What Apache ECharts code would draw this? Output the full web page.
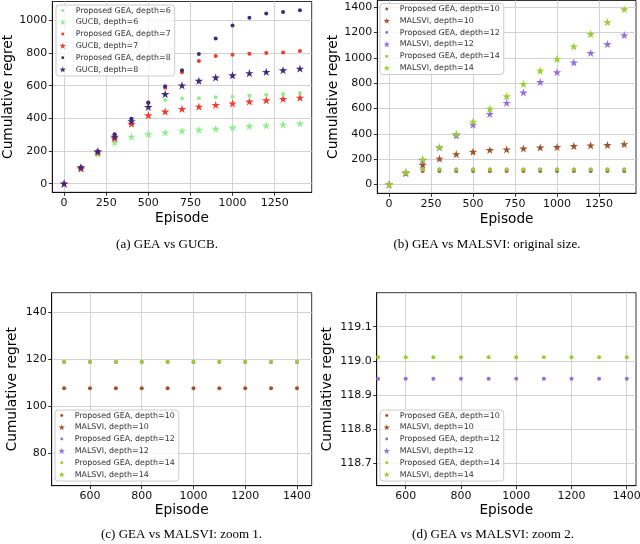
<!DOCTYPE html>
<html>
<head>
<meta charset="utf-8">
<script src="https://cdn.jsdelivr.net/npm/echarts@6.0.0/dist/echarts.min.js"></script>
<style>
html,body{margin:0;padding:0;background:#fff;}
#chart{width:640px;height:544px;}
</style>
</head>
<body>
<div id="chart"></div>
<script>
// ---------- data ----------
const episodes = [0, 100, 200, 300, 400, 500, 600, 700, 800, 900, 1000, 1100, 1200, 1300, 1400];

// (a) GEA vs GUCB
const gea6  = [0, 99, 195, 300, 395, 490, 513, 521, 523, 529, 533, 539, 545, 549, 555];
const gucb6 = [0, 96, 182, 253, 288, 304, 314, 324, 330, 336, 344, 353, 357, 363, 369];
const gea7  = [0, 99, 196, 300, 396, 495, 587, 682, 752, 782, 790, 796, 800, 804, 812];
const gucb7 = [0, 92, 192, 278, 367, 419, 442, 458, 472, 482, 492, 503, 511, 519, 527];
const gea8  = [0, 100, 198, 302, 397, 497, 596, 695, 794, 889, 969, 1017, 1042, 1052, 1062];
const gucb8 = [0, 100, 199, 288, 383, 470, 549, 602, 630, 650, 664, 677, 685, 695, 705];

// (b)-(d) GEA vs MALSVI
const gea10    = [0, 88, 107.8, 107.8, 107.8, 107.8, 107.8, 107.8, 107.8, 107.8, 107.8, 107.8, 107.8, 107.8, 107.8];
const malsvi10 = [0, 90, 156, 205, 240, 259, 273, 278, 285, 292, 296, 304, 309, 312, 319];
const gea12    = [0, 95, 118.947, 118.947, 118.947, 118.947, 118.947, 118.947, 118.947, 118.947, 118.947, 118.947, 118.947, 118.947, 118.947];
const malsvi12 = [0, 96, 195, 293, 387, 472, 558, 645, 727, 809, 887, 963, 1039, 1109, 1180];
const gea14    = [0, 97, 119.01, 119.01, 119.01, 119.01, 119.01, 119.01, 119.01, 119.01, 119.01, 119.01, 119.01, 119.01, 119.01];
const malsvi14 = [0, 97, 199, 297, 399, 497, 598, 697, 795, 898, 992, 1091, 1188, 1282, 1384];

// tick labels
const ticksXab = [0, 250, 500, 750, 1000, 1250];
const ticksYa  = [0, 200, 400, 600, 800, 1000];
const ticksYb  = [0, 200, 400, 600, 800, 1000, 1200, 1400];
const ticksXcd = [600, 800, 1000, 1200, 1400];
const ticksYc  = [80, 100, 120, 140];
const ticksYd  = [118.7, 118.8, 118.9, 119.0, 119.1];

const namesA = ['Proposed GEA, depth=6', 'GUCB, depth=6', 'Proposed GEA, depth=7', 'GUCB, depth=7', 'Proposed GEA, depth=8', 'GUCB, depth=8'];
const namesB = ['Proposed GEA, depth=10', 'MALSVI, depth=10', 'Proposed GEA, depth=12', 'MALSVI, depth=12', 'Proposed GEA, depth=14', 'MALSVI, depth=14'];
const captions = ['(a) GEA vs GUCB.', '(b) GEA vs MALSVI: original size.', '(c) GEA vs MALSVI: zoom 1.', '(d) GEA vs MALSVI: zoom 2.'];

// ---------- styles ----------
const C_LG = '#90ee90', C_RED = '#f23b2a', C_PUR = '#3f2b7d';
const C_BR = '#a0522d', C_LAV = '#9370db', C_YG = '#9acd32';
const STAR = 'path://M10,0L12.245,6.91L19.511,6.91L13.633,11.18L15.878,18.09L10,13.82L4.122,18.09L6.367,11.18L0.489,6.91L7.755,6.91Z';
const STAR_ICON = 'path://M-1,-1M21,19.5M10,0L12.245,6.91L19.511,6.91L13.633,11.18L15.878,18.09L10,13.82L4.122,18.09L6.367,11.18L0.489,6.91L7.755,6.91Z';
const DOT_ICON = 'path://M0,0M8,8M4,2.3A1.7,1.7,0,1,1,4,5.7A1.7,1.7,0,1,1,4,2.3Z';
const FONT = 'DejaVu Sans';

const seriesA = [[gea6, C_LG, 'dot'], [gucb6, C_LG, 'star'], [gea7, C_RED, 'dot'], [gucb7, C_RED, 'star'], [gea8, C_PUR, 'dot'], [gucb8, C_PUR, 'star']];
const seriesB = [[gea10, C_BR, 'dot'], [malsvi10, C_BR, 'star'], [gea12, C_LAV, 'dot'], [malsvi12, C_LAV, 'star'], [gea14, C_YG, 'dot'], [malsvi14, C_YG, 'star']];

const grids = [
  {left: 52.3, top: 1.5, width: 259.4, height: 190.8},
  {left: 377.3, top: 0.5, width: 258.7, height: 192.8},
  {left: 51.7, top: 292.7, width: 260, height: 193},
  {left: 376.7, top: 292.7, width: 259.3, height: 193}
].map(g => Object.assign(g, {show: true, borderColor: '#000', borderWidth: 0.8, containLabel: false, outerBoundsMode: 'none'}));

function xAxis(i, min, max, ticks, gap) {
  return {
    type: 'value', gridIndex: i, min: min, max: max,
    name: 'Episode', nameLocation: 'middle', nameGap: gap,
    nameTextStyle: {fontFamily: FONT, fontSize: 13.7, color: '#000'},
    axisLine: {show: true, onZero: false, lineStyle: {color: '#000', width: 0.8}},
    axisTick: {show: true, length: 3.5, customValues: ticks, lineStyle: {color: '#000', width: 0.8}},
    axisLabel: {customValues: ticks, margin: 5, fontFamily: FONT, fontSize: 11, color: '#111',
      formatter: v => String(v)},
    splitLine: {show: true, lineStyle: {color: '#d2d2d2', width: 1}}
  };
}
function yAxis(i, min, max, ticks, gap, fmt) {
  return {
    type: 'value', gridIndex: i, min: min, max: max,
    name: 'Cumulative regret', nameLocation: 'middle', nameGap: gap,
    nameTextStyle: {fontFamily: FONT, fontSize: 13.7, color: '#000'},
    axisLine: {show: true, onZero: false, lineStyle: {color: '#000', width: 0.8}},
    axisTick: {show: true, length: 3.5, customValues: ticks, lineStyle: {color: '#000', width: 0.8}},
    axisLabel: {customValues: ticks, margin: 5, fontFamily: FONT, fontSize: 11, color: '#111',
      formatter: fmt || (v => String(v))},
    splitLine: {show: true, lineStyle: {color: '#d2d2d2', width: 1}}
  };
}

const xAxes = [
  xAxis(0, -70, 1470, ticksXab, 19),
  xAxis(1, -70, 1470, ticksXab, 19),
  xAxis(2, 452, 1457, ticksXcd, 17.5),
  xAxis(3, 495, 1433.5, ticksXcd, 17.5)
];
const yAxes = [
  yAxis(0, -53, 1116, ticksYa, 35),
  yAxis(1, -69, 1453, ticksYb, 37),
  yAxis(2, 66.2, 148.5, ticksYc, 32),
  yAxis(3, 118.633, 119.2, ticksYd, 42.5, v => v.toFixed(1))
];

const series = [];
function addSeries(grid, defs, names) {
  defs.forEach((d, k) => {
    const [vals, color, kind] = d;
    series.push({
      type: 'scatter', name: names[k], xAxisIndex: grid, yAxisIndex: grid,
      data: episodes.map((e, j) => [e, vals[j]]),
      symbol: kind === 'star' ? STAR : 'circle',
      symbolSize: kind === 'star' ? 8.5 : 4,
      symbolKeepAspect: true,
      itemStyle: {color: color, opacity: 1},
      clip: true, silent: true
    });
  });
}
addSeries(0, seriesA, namesA);
addSeries(1, seriesB, namesB);
addSeries(2, seriesB, namesB);
addSeries(3, seriesB, namesB);

function legend(left, top, names, defs) {
  return {
    orient: 'vertical', left: left, top: top,
    data: names.map((n, k) => ({name: n, icon: defs[k][2] === 'star' ? STAR_ICON : DOT_ICON})),
    itemWidth: 16, itemHeight: 7, itemGap: 2.8,
    padding: [1, 4, 2, 3],
    backgroundColor: 'rgba(255,255,255,0.8)', borderColor: '#cccccc', borderWidth: 1, borderRadius: 3,
    textStyle: {fontFamily: FONT, fontSize: 7.9, lineHeight: 9, color: '#333'},
    selectedMode: false
  };
}

const capPos = [[167, 245], [487, 245], [181.5, 535], [493, 535]];
const graphics = captions.map((t, k) => ({
  type: 'text', x: capPos[k][0], y: capPos[k][1], silent: true,
  style: {text: t, fontFamily: 'Liberation Serif', fontSize: 13, fill: '#000', align: 'center', verticalAlign: 'middle'}
}));

const chart = echarts.init(document.getElementById('chart'), null, {renderer: 'canvas'});
chart.setOption({
  animation: false,
  backgroundColor: '#fff',
  grid: grids,
  xAxis: xAxes,
  yAxis: yAxes,
  legend: [
    legend(56, 5, namesA, seriesA),
    legend(380, 3.5, namesB, seriesB),
    legend(55, 410, namesB, seriesB),
    legend(380, 410, namesB, seriesB)
  ],
  series: series,
  graphic: graphics
});
</script>
</body>
</html>
